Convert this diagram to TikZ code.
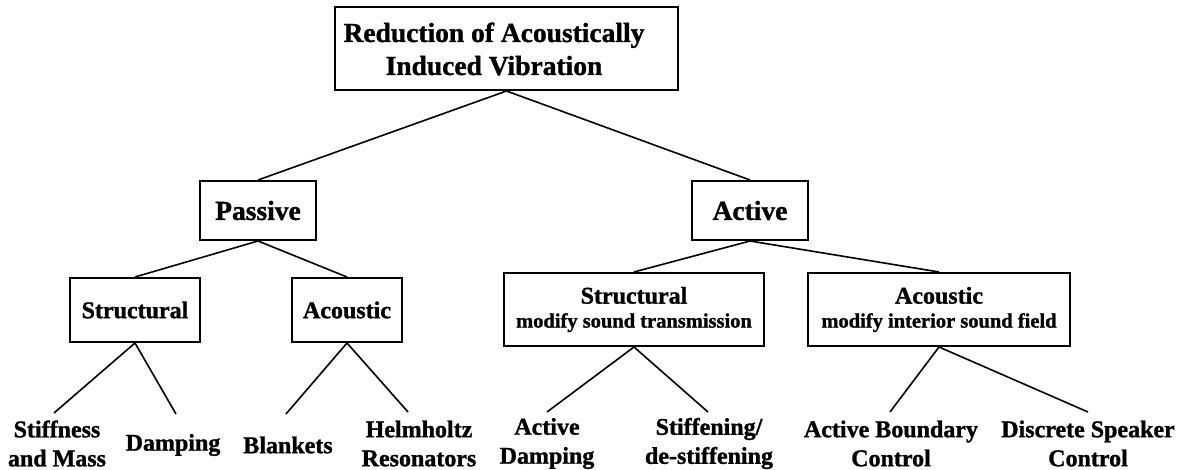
\documentclass[tikz,border=0pt]{standalone}
\usepackage{fontspec}
\setmainfont[BoldFeatures={FakeBold=1.2}]{Liberation Serif}
\tikzset{
  box/.style={draw, line width=2pt, inner sep=0pt},
  conn/.style={line width=1.6pt},
  bigtxt/.style={font=\fontsize{27.5}{33}\selectfont\bfseries},
  midtxt/.style={font=\fontsize{24}{29}\selectfont\bfseries},
  leaf/.style={align=center, inner sep=0pt, font=\fontsize{24}{29}\selectfont\bfseries},
}
\newcommand{\subtxt}[1]{{\fontsize{20.5}{26}\selectfont #1}}
\begin{document}
\begin{tikzpicture}[x=1pt,y=-1pt]
\useasboundingbox (0,0) rectangle (1187,470);
% root
\node[box, minimum width=343pt, minimum height=83pt] (root) at (506.5,48.5) {};
\node[bigtxt, align=center, inner sep=0pt] (roott) at (494,49) {Reduction of Acoustically\\Induced Vibration};
% level 1
\node[box, bigtxt, minimum width=116pt, minimum height=59pt] (passive) at (258,210.5) {Passive};
\node[box, bigtxt, minimum width=116pt, minimum height=59pt] (active) at (750,210.5) {Active};
% level 2
\node[box, midtxt, minimum width=130pt, minimum height=64pt] (pstr) at (135,310) {\raisebox{-1.5pt}{Structural}};
\node[box, midtxt, minimum width=110pt, minimum height=64pt] (pac) at (347,310) {\raisebox{-1.5pt}{Acoustic}};
\node[box, midtxt, align=center, minimum width=260pt, minimum height=73pt] (astr) at (634,309.5) {\raisebox{-2pt}{Structural}\\[-3pt]\subtxt{modify sound transmission}};
\node[box, midtxt, align=center, minimum width=262pt, minimum height=73pt] (aac) at (939,309.5) {\raisebox{-2pt}{Acoustic}\\[-3pt]\subtxt{modify interior sound field}};
% leaves
\node[leaf] (sm) at (57,443.5) {Stiffness\\and Mass};
\node[leaf] (damp) at (173,445) {Damping};
\node[leaf] (blank) at (288,445) {Blankets};
\node[leaf] (helm) at (419,443.5) {Helmholtz\\Resonators};
\node[leaf] (adamp) at (547,443.5) {Active\\Damping};
\node[leaf] (stiff) at (709,443.5) {Stiffening/\\de-stiffening};
\node[leaf] (abc) at (891,443.5) {Active Boundary\\Control};
\node[leaf] (dsc) at (1088,443.5) {Discrete Speaker\\Control};
% leaf connector ends
\coordinate (smtop) at (54,413);
\coordinate (damptop) at (176,414);
\coordinate (blanktop) at (286,414);
\coordinate (helmtop) at (408,412);
\coordinate (adamptop) at (547,412);
\coordinate (stifftop) at (708,412);
\coordinate (abctop) at (890,412);
\coordinate (dsctop) at (1088,412);
% connectors
\draw[conn] (root.south) -- (passive.north);
\draw[conn] (root.south) -- (active.north);
\draw[conn] (passive.south) -- (pstr.north);
\draw[conn] (passive.south) -- (pac.north);
\draw[conn] (active.south) -- (astr.north);
\draw[conn] (active.south) -- (aac.north);
\draw[conn] (pstr.south) -- (smtop);
\draw[conn] (pstr.south) -- (damptop);
\draw[conn] (pac.south) -- (blanktop);
\draw[conn] (pac.south) -- (helmtop);
\draw[conn] (astr.south) -- (adamptop);
\draw[conn] (astr.south) -- (stifftop);
\draw[conn] (aac.south) -- (abctop);
\draw[conn] (aac.south) -- (dsctop);
\end{tikzpicture}
\end{document}
